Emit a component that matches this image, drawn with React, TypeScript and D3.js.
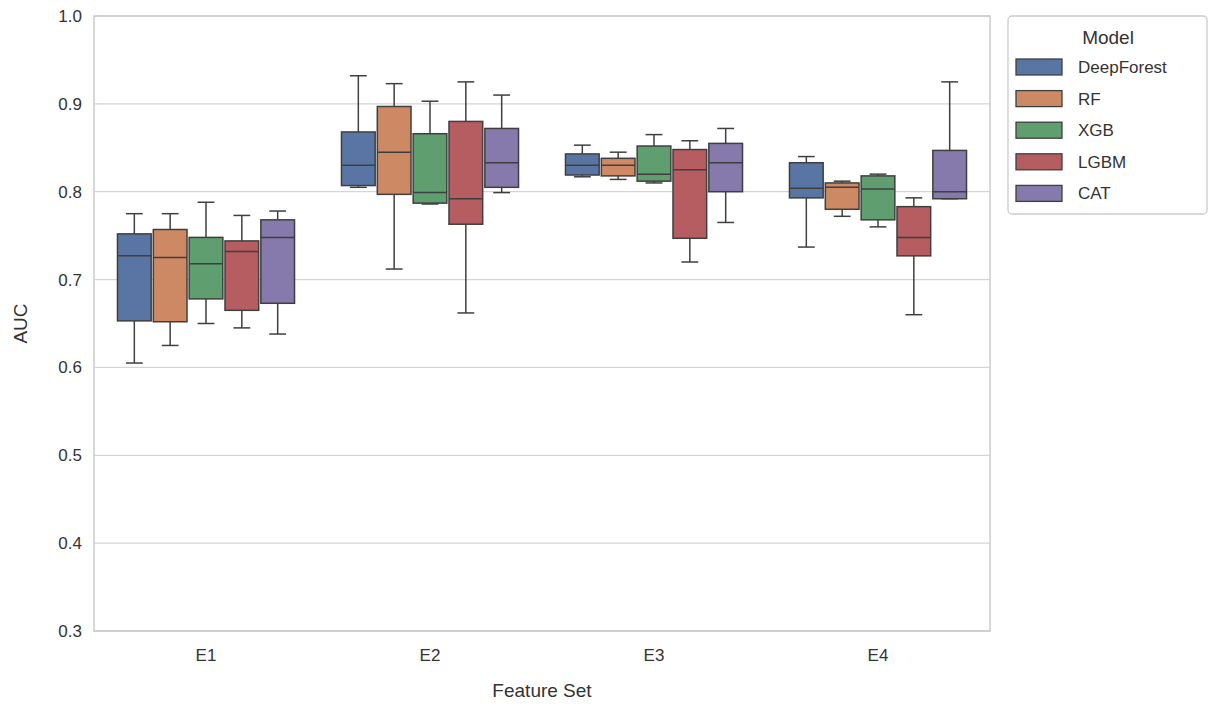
import * as d3 from "d3";

const featureSets = ["E1", "E2", "E3", "E4"];
const models = ["DeepForest", "RF", "XGB", "LGBM", "CAT"];
const colors = ["#5975a4", "#cc8963", "#5f9e6e", "#b55d60", "#857aab"];
// [whiskerHigh, q3, median, q1, whiskerLow] per model, per feature set
const statsE1 = [
  [0.775, 0.752, 0.727, 0.653, 0.605],
  [0.775, 0.757, 0.725, 0.652, 0.625],
  [0.788, 0.748, 0.718, 0.678, 0.65],
  [0.773, 0.744, 0.732, 0.665, 0.645],
  [0.778, 0.768, 0.748, 0.673, 0.638],
];
const statsE2 = [
  [0.932, 0.868, 0.83, 0.807, 0.805],
  [0.923, 0.897, 0.845, 0.797, 0.712],
  [0.903, 0.866, 0.799, 0.787, 0.786],
  [0.925, 0.88, 0.792, 0.763, 0.662],
  [0.91, 0.872, 0.833, 0.805, 0.799],
];
const statsE3 = [
  [0.853, 0.843, 0.83, 0.819, 0.817],
  [0.845, 0.838, 0.83, 0.818, 0.814],
  [0.865, 0.852, 0.82, 0.812, 0.81],
  [0.858, 0.848, 0.825, 0.747, 0.72],
  [0.872, 0.855, 0.833, 0.8, 0.765],
];
const statsE4 = [
  [0.84, 0.833, 0.804, 0.793, 0.737],
  [0.812, 0.81, 0.805, 0.78, 0.772],
  [0.82, 0.818, 0.803, 0.768, 0.76],
  [0.793, 0.783, 0.748, 0.727, 0.66],
  [0.925, 0.847, 0.8, 0.792, 0.792],
];
const allStats = [statsE1, statsE2, statsE3, statsE4];
const yTicks = [0.3, 0.4, 0.5, 0.6, 0.7, 0.8, 0.9, 1.0];

export default function App() {
  const left = 94, right = 990, top = 16, bottom = 631;
  const x = d3.scaleBand().domain(featureSets).range([left, right]);
  const inner = d3.scaleBand().domain(models).range([0, x.bandwidth() * 0.8]);
  const y = d3.scaleLinear().domain([0.3, 1.0]).range([bottom, top]);
  const bw = inner.bandwidth() * 0.94;
  const line = "#3f3f3f";
  const font = "Arial, 'Liberation Sans', sans-serif";

  return (
    <svg width={1216} height={706} style={{ position: "absolute", left: 0, top: 0 }} fontFamily={font}>
      <rect width={1216} height={706} fill="#fff" />
      {yTicks.map((t) => (
        <g key={t}>
          <line x1={left} x2={right} y1={y(t)} y2={y(t)} stroke="#d5d5d5" strokeWidth={1.3} />
          <text x={left - 12} y={y(t)} dy="0.35em" textAnchor="end" fontSize={17} fill="#333">
            {t.toFixed(1)}
          </text>
        </g>
      ))}
      {featureSets.map((fs, gi) => {
        const g0 = x(fs)! + x.bandwidth() * 0.1;
        return (
          <g key={fs}>
            <text x={x(fs)! + x.bandwidth() / 2} y={bottom + 30} textAnchor="middle" fontSize={17} fill="#333">
              {fs}
            </text>
            {models.map((m, mi) => {
              const [wh, q3, med, q1, wl] = allStats[gi][mi];
              const cx = g0 + inner(m)! + inner.bandwidth() / 2;
              return (
                <g key={m} stroke={line} strokeWidth={1.5}>
                  <line x1={cx} x2={cx} y1={y(wh)} y2={y(q3)} />
                  <line x1={cx} x2={cx} y1={y(q1)} y2={y(wl)} />
                  <line x1={cx - bw / 4} x2={cx + bw / 4} y1={y(wh)} y2={y(wh)} />
                  <line x1={cx - bw / 4} x2={cx + bw / 4} y1={y(wl)} y2={y(wl)} />
                  <rect x={cx - bw / 2} width={bw} y={y(q3)} height={y(q1) - y(q3)} fill={colors[mi]} />
                  <line x1={cx - bw / 2} x2={cx + bw / 2} y1={y(med)} y2={y(med)} />
                </g>
              );
            })}
          </g>
        );
      })}
      <rect x={left} y={top} width={right - left} height={bottom - top} fill="none" stroke="#cccccc" strokeWidth={1.5} />
      <text x={(left + right) / 2} y={697} textAnchor="middle" fontSize={19} fill="#333">Feature Set</text>
      <text transform={`translate(27,${(top + bottom) / 2}) rotate(-90)`} textAnchor="middle" fontSize={19} fill="#333">AUC</text>
      <g>
        <rect x={1008} y={16} width={199} height={198} rx={4} fill="#fff" stroke="#cccccc" strokeWidth={1.3} />
        <text x={1108} y={37} dy="0.35em" textAnchor="middle" fontSize={19} fill="#333">Model</text>
        {models.map((m, i) => (
          <g key={m} transform={`translate(0,${67 + i * 31.6})`}>
            <rect x={1016} y={-8} width={46} height={16} fill={colors[i]} stroke={line} strokeWidth={1.3} />
            <text x={1078} dy="0.35em" fontSize={17} fill="#333">{m}</text>
          </g>
        ))}
      </g>
    </svg>
  );
}
